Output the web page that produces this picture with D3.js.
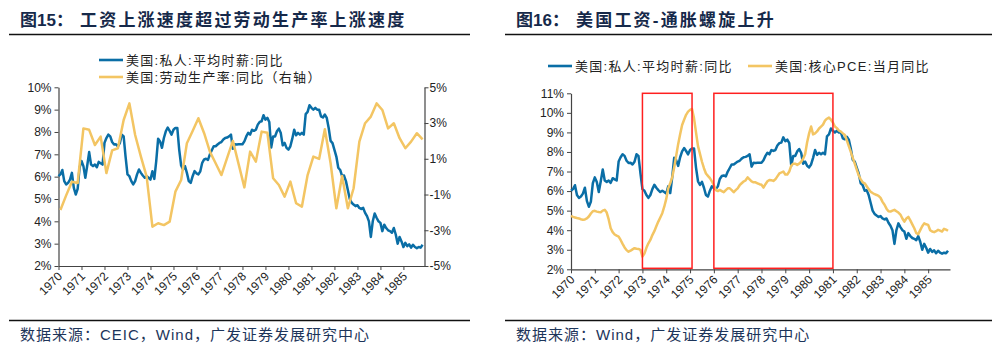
<!DOCTYPE html>
<html>
<head>
<meta charset="utf-8">
<script src="https://cdn.jsdelivr.net/npm/d3@7"></script>
<style>
  body { margin: 0; background: #fff; }
  svg { display: block; }
  text { font-family: "Liberation Sans", "Noto Sans CJK SC", sans-serif; }
</style>
</head>
<body>
<script>
// monthly data, Jan 1970 .. Nov 1985
const yearLabels = d3.range(1970, 1986).map(String);

const wage = [
	6.02, 6.1, 6.3, 5.8, 5.65, 5.72, 5.87, 6.17, 5.5, 5.2, 5.45, 6.4,
	6.7, 6.47, 5.95, 6.5, 7.1, 6.54, 6.47, 6.54, 6.42, 6.66, 6.6, 6.54,
	7.51, 7.73, 7.88, 7.8, 7.55, 7.44, 7.45, 7.36, 7.5, 7.88, 7.8, 6.9,
	6.1, 6.02, 5.8, 5.65, 5.8, 6.1, 6.32, 6.17, 6.05, 5.95, 6.02, 5.95,
	5.87, 6.24, 5.9, 6.7, 7.7, 7.58, 7.29, 7.73, 8.03, 8.2, 8.05, 7.88,
	8.1, 8.18, 8.18, 7.2, 6.5, 6.32, 6.47, 6.17, 5.8, 5.72, 6.02, 6.25,
	6.15, 6.1, 6.24, 6.62, 6.77, 6.8, 6.75, 7.0, 7.18, 7.36, 7.36, 7.44,
	7.51, 7.55, 7.66, 7.73, 7.75, 7.8, 7.88, 7.25, 7.45, 7.44, 7.45, 7.45,
	7.45, 7.58, 7.8, 7.96, 7.88, 8.1, 8.05, 8.1, 8.33, 8.45, 8.48, 8.75,
	8.55, 8.63, 8.45, 7.3, 7.8, 7.8, 8.03, 8.15, 7.95, 7.4, 7.51, 7.29,
	7.21, 7.36, 7.7, 8.1, 7.85, 7.96, 7.88, 7.96, 7.88, 8.8, 8.9, 9.2,
	9.08, 9.0, 9.08, 9.0, 9.0, 8.7, 8.65, 8.78, 8.63, 8.18, 7.6, 7.5,
	7.2, 6.9, 6.4, 6.3, 6.02, 6.05, 5.8, 5.4, 5.0, 4.83, 4.75, 4.68,
	4.72, 4.6, 4.55, 4.6, 4.38, 4.23, 4.0, 3.3, 4.0, 4.35, 4.16, 4.0,
	3.93, 3.56, 3.85, 3.7, 3.6, 3.56, 3.49, 3.7, 3.41, 3.0, 3.3, 3.1,
	2.85, 3.04, 2.89, 2.97, 2.82, 2.95, 2.85, 2.8, 2.85, 2.82, 2.95
];

const corePce = [
	4.73, 4.68, 4.65, 4.62, 4.6, 4.56, 4.53, 4.55, 4.6, 4.7, 4.85, 4.97,
	4.99, 4.95, 4.93, 4.92, 5.0, 5.04, 4.9, 4.55, 4.1, 3.9, 3.78, 3.72,
	3.67, 3.5, 3.3, 3.12, 2.98, 2.9, 2.95, 3.02, 3.08, 3.05, 3.04, 2.99,
	2.65, 2.8, 3.1, 3.33, 3.5, 3.75, 3.95, 4.2, 4.44, 4.65, 4.87, 5.2,
	5.6, 6.14, 6.4, 6.7, 7.2, 7.8, 8.4, 8.9, 9.38, 9.65, 9.9, 10.06,
	10.15, 10.2, 9.72, 9.0, 8.3, 7.9, 7.5, 7.17, 6.9, 6.78, 6.66, 6.5,
	6.3, 6.05, 6.0, 6.06, 6.0, 5.94, 6.05, 6.14, 6.14, 6.05, 5.94, 6.05,
	6.14, 6.3, 6.4, 6.49, 6.55, 6.7, 6.6, 6.5, 6.45, 6.45, 6.4, 6.35,
	6.32, 6.18, 6.35, 6.5, 6.57, 6.55, 6.52, 6.6, 6.75, 6.9, 6.95, 7.0,
	6.85, 6.85, 7.0, 7.3, 7.4, 7.4, 7.34, 7.4, 7.5, 7.65, 7.9, 8.5,
	8.95, 9.3, 8.9, 8.95, 9.05, 9.2, 9.3, 9.4, 9.6, 9.7, 9.76, 9.65,
	9.5, 9.3, 9.22, 9.1, 9.04, 8.95, 8.87, 8.6, 8.3, 8.0, 7.7, 7.4,
	7.1, 6.8, 6.6, 6.45, 6.4, 6.25, 6.1, 5.97, 5.9, 5.84, 5.8, 5.75,
	5.65, 5.45, 5.3, 5.1, 4.97, 4.95, 5.0, 5.04, 4.97, 4.9, 4.8, 4.6,
	4.44, 4.6, 4.68, 4.5, 4.3, 4.1, 3.85, 3.8, 4.0, 4.2, 4.35, 4.3,
	4.27, 4.0, 3.93, 3.9, 3.95, 4.02, 3.98, 3.93, 4.07, 4.03, 3.97
];

// quarterly, 1970Q1 .. 1985Q4 (right axis)
const productivity = [
	-1.87, -1.05, -0.28, -0.35,
	2.7, 2.62, 1.77, 2.24,
	0.2, 1.47, 1.59, 3.17,
	4.1, 2.33, 1.12, 0.0,
	-2.8, -2.61, -2.71, -2.52,
	-0.84, -0.19, 1.87, 2.55,
	3.27, 2.43, 1.4, 0.75,
	0.09, 1.05, 2.0, 0.7,
	-0.6, 1.4, 0.84, 2.52,
	2.46, -0.09, -0.47, -1.12,
	-0.28, -1.49, -1.68, 0.09,
	1.12, 0.99, 2.65, 0.75,
	-1.77, 0.04, -1.77, -0.65,
	1.96, 2.99, 3.36, 4.1,
	3.73, 2.7, 2.99, 2.15,
	1.59, 1.96, 2.43, 2.09
];

const leftTicks = d3.range(2, 11);
const rightTicks = [-5, -3, -1, 1, 3, 5];
const pceTicks = d3.range(2, 12);
// highlighted periods, in months since Jan 1970
const boxes = [[36, 61], [72, 132]];

const BLUE = "#0a6ea6";
const GOLD = "#f3c563";
const NAVY = "#16294a";
const AXIS = "#444";

const svg = d3.select("body").append("svg")
	.attr("width", 1001)
	.attr("height", 354)
	.style("background", "#fff");

const monthOf = (i, step, offset) => i * step + offset;

function header(x0, x1, label, title) {
	const t = svg.append("text")
		.attr("x", x0 + 11)
		.attr("y", 26)
		.attr("font-size", "17px")
		.attr("font-weight", "bold")
		.attr("fill", NAVY);
	t.append("tspan").text(label);
	t.append("tspan")
		.attr("x", x0 + 71)
		.attr("letter-spacing", "2.2px")
		.text(title);

	svg.append("line")
		.attr("x1", x0).attr("x2", x1)
		.attr("y1", 34.5).attr("y2", 34.5)
		.attr("stroke", "#111")
		.attr("stroke-width", 1.3);
}

function footer(x0, x1, text) {
	svg.append("line")
		.attr("x1", x0).attr("x2", x1)
		.attr("y1", 320.5).attr("y2", 320.5)
		.attr("stroke", "#111")
		.attr("stroke-width", 1.3);
	svg.append("text")
		.attr("x", x0 + 11)
		.attr("y", 340)
		.attr("font-size", "15px")
		.attr("letter-spacing", "1px")
		.attr("fill", "#1d355a")
		.text(text);
}

function legendItem(x, y, color, text) {
	svg.append("line")
		.attr("x1", x).attr("x2", x + 24)
		.attr("y1", y).attr("y2", y)
		.attr("stroke", color)
		.attr("stroke-width", 2.6);
	svg.append("text")
		.attr("x", x + 27)
		.attr("y", y + 4.5)
		.attr("font-size", "13px")
		.attr("letter-spacing", "1.3px")
		.attr("fill", "#222")
		.text(text);
}

function styleAxis(g) {
	g.select(".domain").attr("stroke", AXIS).attr("stroke-width", 1.2);
	g.selectAll(".tick line").attr("stroke", AXIS);
	g.selectAll(".tick text").attr("fill", "#222").attr("font-size", "12px")
		.style("font-family", "'Liberation Sans', Arial, sans-serif");
}

function xAxis(x, yPos) {
	const g = svg.append("g")
		.attr("transform", `translate(0,${yPos})`)
		.call(d3.axisBottom(x)
			.tickValues(d3.range(0, 181, 12))
			.tickFormat(m => yearLabels[m / 12])
			.tickSize(4)
			.tickSizeOuter(0));
	styleAxis(g);
	g.selectAll(".tick text")
		.attr("x", 0).attr("y", 0).attr("dy", 0)
		.attr("text-anchor", "end")
		.attr("transform", "translate(4,11) rotate(-45)");
}

function drawLine(x, y, values, color, step, offset) {
	const line = d3.line()
		.x((d, i) => x(monthOf(i, step, offset)))
		.y(d => y(d));
	svg.append("path")
		.datum(values)
		.attr("fill", "none")
		.attr("stroke", color)
		.attr("stroke-width", 2.5)
		.attr("stroke-linejoin", "round")
		.attr("d", line);
}

// ---------- left panel ----------
header(9, 470, "图15：", "工资上涨速度超过劳动生产率上涨速度");

const xL = d3.scaleLinear().domain([0, 191]).range([58.5, 424.5]);
const yL = d3.scaleLinear().domain([2, 10]).range([266, 87.3]);
const yR = d3.scaleLinear().domain([-5, 5]).range([266, 87.3]);

const gl = svg.append("g").attr("transform", `translate(${xL.range()[0]},0)`)
	.call(d3.axisLeft(yL).tickValues(leftTicks).tickFormat(d => d + "%").tickSize(4).tickSizeOuter(0));
styleAxis(gl);

const gr = svg.append("g").attr("transform", `translate(${xL.range()[1]},0)`)
	.call(d3.axisRight(yR).tickValues(rightTicks).tickFormat(d => d + "%").tickSize(4).tickPadding(1).tickSizeOuter(0));
styleAxis(gr);

xAxis(xL, 266);

drawLine(xL, yL, wage, BLUE, 1, 0);
drawLine(xL, yR, productivity, GOLD, 3, 1);

legendItem(99, 60, BLUE, "美国:私人:平均时薪:同比");
legendItem(99, 77, GOLD, "美国:劳动生产率:同比（右轴）");

footer(9, 470, "数据来源：CEIC，Wind，广发证券发展研究中心");

// ---------- right panel ----------
header(505, 992, "图16：", "美国工资-通胀螺旋上升");

const xP = d3.scaleLinear().domain([0, 191]).range([571, 950]);
const yP = d3.scaleLinear().domain([2, 11]).range([269.3, 93.3]);

const gp = svg.append("g").attr("transform", `translate(${xP.range()[0]},0)`)
	.call(d3.axisLeft(yP).tickValues(pceTicks).tickFormat(d => d + "%").tickSize(4).tickSizeOuter(0));
styleAxis(gp);

xAxis(xP, 269.3);

drawLine(xP, yP, wage, BLUE, 1, 0);
drawLine(xP, yP, corePce, GOLD, 1, 0);

svg.append("g").selectAll("rect")
	.data(boxes)
	.join("rect")
	.attr("x", d => xP(d[0]))
	.attr("y", yP(11))
	.attr("width", d => xP(d[1]) - xP(d[0]))
	.attr("height", yP(2) - yP(11) - 1)
	.attr("fill", "none")
	.attr("stroke", "#ff1f1f")
	.attr("stroke-width", 1.5);

legendItem(548, 66, BLUE, "美国:私人:平均时薪:同比");
legendItem(748, 66, GOLD, "美国:核心PCE:当月同比");

footer(505, 992, "数据来源：Wind，广发证券发展研究中心");
</script>
</body>
</html>
